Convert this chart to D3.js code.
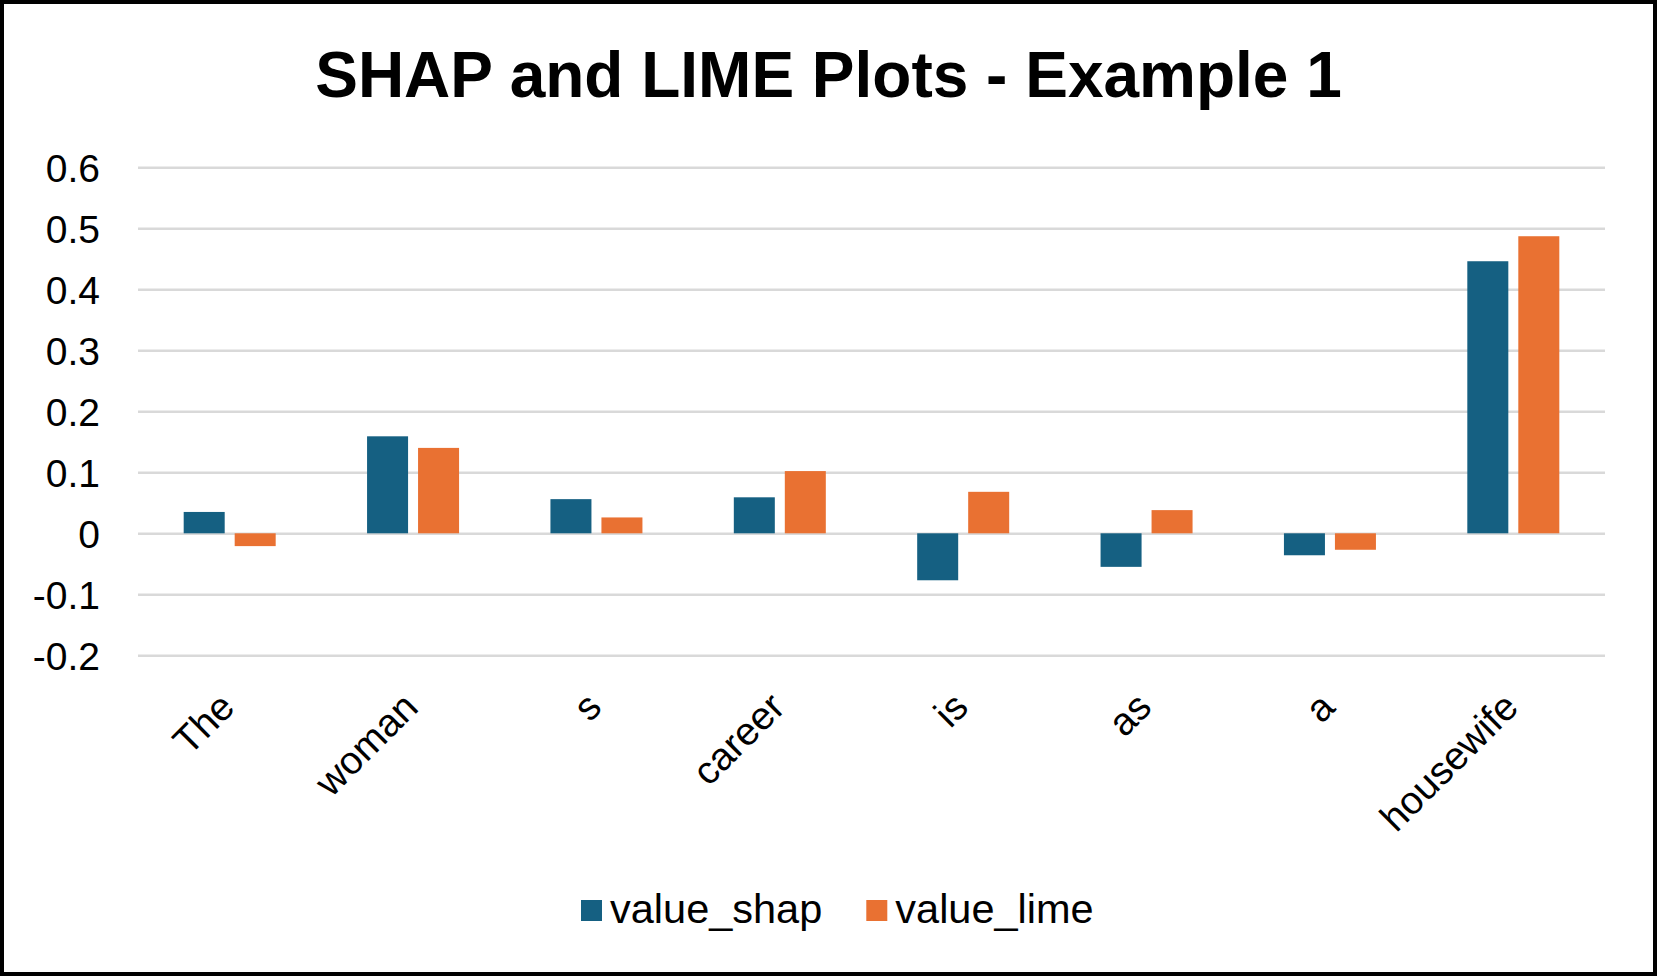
<!DOCTYPE html>
<html>
<head>
<meta charset="utf-8">
<script src="https://cdn.jsdelivr.net/npm/d3@7"></script>
<style>
  html, body { margin: 0; padding: 0; background: #fff; }
  svg text { font-family: "Liberation Sans", Arial, sans-serif; fill: #000; }
</style>
</head>
<body>
<div id="chart"></div>
<script>
// data
var words = ["The", "woman", "s", "career", "is", "as", "a", "housewife"];
var seriesNames = ["value_shap", "value_lime"];
var valueShap = [0.035, 0.159, 0.056, 0.059, -0.077, -0.055, -0.036, 0.446];
var valueLime = [-0.021, 0.140, 0.026, 0.102, 0.068, 0.038, -0.027, 0.487];
var yTicks = [0.6, 0.5, 0.4, 0.3, 0.2, 0.1, 0, -0.1, -0.2];
var yTickLabels = ["0.6", "0.5", "0.4", "0.3", "0.2", "0.1", "0", "-0.1", "-0.2"];
var colors = ["#156082", "#E97132"];

var svgWidth = 1657;
var svgHeight = 976;
var plot = { left: 138, right: 1605, top: 167.3, bottom: 655.3 };

var svg = d3.select("#chart")
    .append("svg")
    .attr("width", svgWidth)
    .attr("height", svgHeight);

// outer frame
svg.append("rect")
    .attr("x", 2).attr("y", 2)
    .attr("width", svgWidth - 4).attr("height", svgHeight - 4)
    .attr("fill", "#fff")
    .attr("stroke", "#000")
    .attr("stroke-width", 4);

// title
svg.append("text")
    .attr("x", svgWidth / 2)
    .attr("y", 97)
    .attr("text-anchor", "middle")
    .style("font-size", "64px")
    .style("font-weight", "bold")
    .text("SHAP and LIME Plots - Example 1");

var xScale = d3.scaleBand()
    .domain(words)
    .range([plot.left, plot.right])
    .padding(0);

var groupW = 92;
var xInner = d3.scaleBand()
    .domain(seriesNames)
    .range([0, groupW])
    .paddingInner(0.196)
    .paddingOuter(0);

var yScale = d3.scaleLinear()
    .domain([-0.2, 0.6])
    .range([plot.bottom, plot.top]);

// y axis with gridlines
var leftAxis = d3.axisLeft(yScale)
    .tickValues(yTicks)
    .tickFormat(function(d, i) { return yTickLabels[i]; })
    .tickSizeInner(-(plot.right - plot.left))
    .tickSizeOuter(0)
    .tickPadding(38);

var yAxis = svg.append("g")
    .attr("transform", `translate(${plot.left},0)`)
    .call(leftAxis);
yAxis.select(".domain").remove();
yAxis.selectAll("line")
    .attr("stroke", "#D9D9D9")
    .attr("stroke-width", 2.5);
yAxis.selectAll("text")
    .attr("dy", "0.355em")
    .style("font-size", "39px");

// bars
var rows = words.map(function(w, i) {
    return { word: w, vals: [valueShap[i], valueLime[i]] };
});

var groups = svg.selectAll(".grp")
    .data(rows)
    .enter()
    .append("g")
    .attr("class", "grp")
    .attr("transform", d => `translate(${xScale(d.word) + (xScale.bandwidth() - groupW) / 2},0)`);

groups.selectAll("rect")
    .data(d => d.vals.map((v, j) => ({ key: seriesNames[j], v: v, j: j })))
    .enter()
    .append("rect")
    .attr("x", d => xInner(d.key))
    .attr("width", xInner.bandwidth())
    .attr("y", d => yScale(Math.max(0, d.v)))
    .attr("height", d => Math.abs(yScale(d.v) - yScale(0)))
    .attr("fill", d => colors[d.j]);

// category labels, rotated
var bottomAxis = d3.axisBottom(xScale).tickSize(0).tickPadding(0);
var xAxis = svg.append("g")
    .attr("transform", `translate(0,${plot.bottom})`)
    .call(bottomAxis);
xAxis.select(".domain").remove();
xAxis.selectAll("text")
    .attr("y", 0)
    .attr("dy", 0)
    .attr("text-anchor", "end")
    .attr("transform", "translate(7,54) rotate(-45)")
    .style("font-size", "39px");

// legend
var legend = svg.append("g");
var lx = 581;
seriesNames.forEach(function(name, i) {
    legend.append("rect")
        .attr("x", lx).attr("y", 900)
        .attr("width", 21).attr("height", 21)
        .attr("fill", colors[i]);
    var t = legend.append("text")
        .attr("x", lx + 29)
        .attr("y", 923)
        .style("font-size", "41.5px")
        .text(name);
    lx = lx + 29 + t.node().getComputedTextLength() + 44;
});
</script>
</body>
</html>
